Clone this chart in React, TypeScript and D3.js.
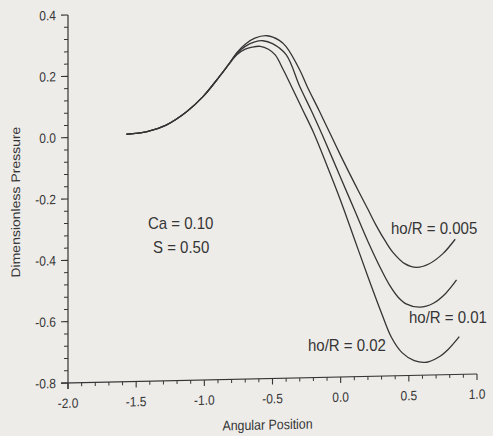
import React from "react";
import * as d3 from "d3";

// ---- Data ----
const X_TICKS = [-2.0, -1.5, -1.0, -0.5, 0.0, 0.5, 1.0];
const Y_TICKS = [0.4, 0.2, 0.0, -0.2, -0.4, -0.6, -0.8];

// shared rising part of all three curves
const COMMON_X = [-1.571, -1.42, -1.28, -1.13, -1.01, -0.89, -0.82];
const COMMON_Y = [0.007, 0.014, 0.034, 0.076, 0.124, 0.188, 0.228];

// ho/R = 0.005
const H005_X = [-0.76, -0.70, -0.63, -0.54, -0.45, -0.40, -0.30, -0.245, -0.16, -0.08, 0.0, 0.1, 0.2, 0.26, 0.33, 0.385, 0.47, 0.556, 0.65, 0.75, 0.84];
const H005_Y = [0.266, 0.292, 0.311, 0.318, 0.302, 0.281, 0.204, 0.149, 0.072, -0.003, -0.078, -0.168, -0.255, -0.308, -0.362, -0.398, -0.435, -0.448, -0.437, -0.405, -0.359];

// ho/R = 0.01
const H01_X = [-0.76, -0.70, -0.63, -0.57, -0.50, -0.40, -0.30, -0.22, -0.14, 0.0, 0.1, 0.2, 0.3, 0.36, 0.42, 0.48, 0.58, 0.68, 0.77, 0.85];
const H01_Y = [0.263, 0.285, 0.299, 0.302, 0.292, 0.255, 0.15, 0.075, -0.004, -0.15, -0.255, -0.36, -0.455, -0.505, -0.543, -0.566, -0.578, -0.566, -0.535, -0.492];

// ho/R = 0.02
const H02_X = [-0.76, -0.70, -0.65, -0.59, -0.53, -0.48, -0.42, -0.36, -0.28, -0.2, -0.1, 0.0, 0.1, 0.2, 0.3, 0.373, 0.45, 0.54, 0.63, 0.72, 0.79, 0.87];
const H02_Y = [0.259, 0.276, 0.282, 0.284, 0.274, 0.255, 0.205, 0.15, 0.075, 0.0, -0.11, -0.225, -0.35, -0.475, -0.595, -0.675, -0.725, -0.752, -0.758, -0.742, -0.717, -0.677];

const SERIES_X = [H005_X, H01_X, H02_X];
const SERIES_Y = [H005_Y, H01_Y, H02_Y];

const W = 493;
const H = 436;
const BG = "#eeece9";
const INK = "#353535";
const FONT = "'Liberation Sans', Arial, Helvetica, sans-serif";
const STRETCH = 1.13;

export default function App() {
  const x = d3.scaleLinear().domain([-2, 1]).range([68, 477]);
  const y = d3.scaleLinear().domain([-0.8, 0.4]).range([383, 15]);

  const line = d3
    .line<[number, number]>()
    .x((d) => x(d[0]))
    .y((d) => y(d[1]))
    .curve(d3.curveCatmullRom.alpha(0.5));

  const paths = SERIES_X.map((sx, i) => {
    const xs = COMMON_X.concat(sx);
    const ys = COMMON_Y.concat(SERIES_Y[i]);
    const pts: [number, number][] = xs.map((v, j) => [v, ys[j]]);
    return line(pts) || "";
  });

  const xMinor = d3.range(-20, 11).map((k) => k / 10).filter((v) => Math.abs(v * 2 - Math.round(v * 2)) > 1e-6);
  const yMinor = d3.range(-20, 11).map((k) => k * 0.04).filter((v) => Math.abs(v * 5 - Math.round(v * 5)) > 1e-6);

  const x0 = x(-2);
  const y0 = y(-0.8);
  const skew = 0.022;

  return (
    <svg
      width={W}
      height={H}
      style={{ position: "absolute", left: 0, top: 0, background: BG }}
      fontFamily={FONT}
    >
      <rect x={0} y={0} width={W} height={H} fill={BG} />
      <g transform={`matrix(1,${-skew},0,1,0,${skew * x0})`}>
        {/* y axis */}
        <line x1={x0} x2={x0} y1={y(0.4)} y2={y0 + 6} stroke={INK} strokeWidth={1.2} />
        {Y_TICKS.map((t) => (
          <g key={"yt" + t}>
            <line x1={x0 - 7} x2={x0} y1={y(t)} y2={y(t)} stroke={INK} strokeWidth={1.1} />
            <text
              transform={`translate(${x0 - 12},${y(t)}) scale(1,${STRETCH})`}
              dy="0.35em"
              textAnchor="end"
              fontSize={12}
              fill={INK}
            >
              {t.toFixed(1)}
            </text>
          </g>
        ))}
        {yMinor.map((t) => (
          <line key={"ym" + t} x1={x0 - 4} x2={x0} y1={y(t)} y2={y(t)} stroke={INK} strokeWidth={1} />
        ))}
        {/* x axis */}
        <line x1={x0 - 7} x2={x(1)} y1={y0} y2={y0} stroke={INK} strokeWidth={1.2} />
        {X_TICKS.map((t) => (
          <g key={"xt" + t}>
            <line x1={x(t)} x2={x(t)} y1={y0} y2={y0 + 6} stroke={INK} strokeWidth={1.1} />
            <text
              transform={`translate(${x(t)},${y0 + 20}) scale(1,${STRETCH})`}
              dy="0.35em"
              textAnchor="middle"
              fontSize={12}
              fill={INK}
            >
              {t.toFixed(1)}
            </text>
          </g>
        ))}
        {xMinor.map((t) => (
          <line key={"xm" + t} x1={x(t)} x2={x(t)} y1={y0} y2={y0 + 3.5} stroke={INK} strokeWidth={1} />
        ))}
        {/* axis titles */}
        <text
          transform={`translate(${(x0 + x(1)) / 2 - 5},${y0 + 46}) scale(1,${STRETCH})`}
          dy="0.35em"
          textAnchor="middle"
          fontSize={12.4}
          fill={INK}
        >
          Angular Position
        </text>
        <text
          transform={`translate(16,201) scale(1,${STRETCH}) rotate(-90)`}
          dy="0.35em"
          textAnchor="middle"
          fontSize={12.4}
          fill={INK}
        >
          Dimensionless Pressure
        </text>
        {/* curves */}
        {paths.map((p, i) => (
          <path key={"c" + i} d={p} fill="none" stroke={INK} strokeWidth={1.3} />
        ))}
      </g>
      {/* annotations */}
      <g fontSize={15} fill={INK}>
        <text transform={`translate(148,223) scale(1,${STRETCH})`} dy="0.35em">Ca = 0.10</text>
        <text transform={`translate(153,247) scale(1,${STRETCH})`} dy="0.35em">S = 0.50</text>
        <text transform={`translate(391,228) scale(1,${STRETCH})`} dy="0.35em">ho/R = 0.005</text>
        <text transform={`translate(409,317) scale(1,${STRETCH})`} dy="0.35em">ho/R = 0.01</text>
        <text transform={`translate(308,345) scale(1,${STRETCH})`} dy="0.35em">ho/R = 0.02</text>
      </g>
    </svg>
  );
}
